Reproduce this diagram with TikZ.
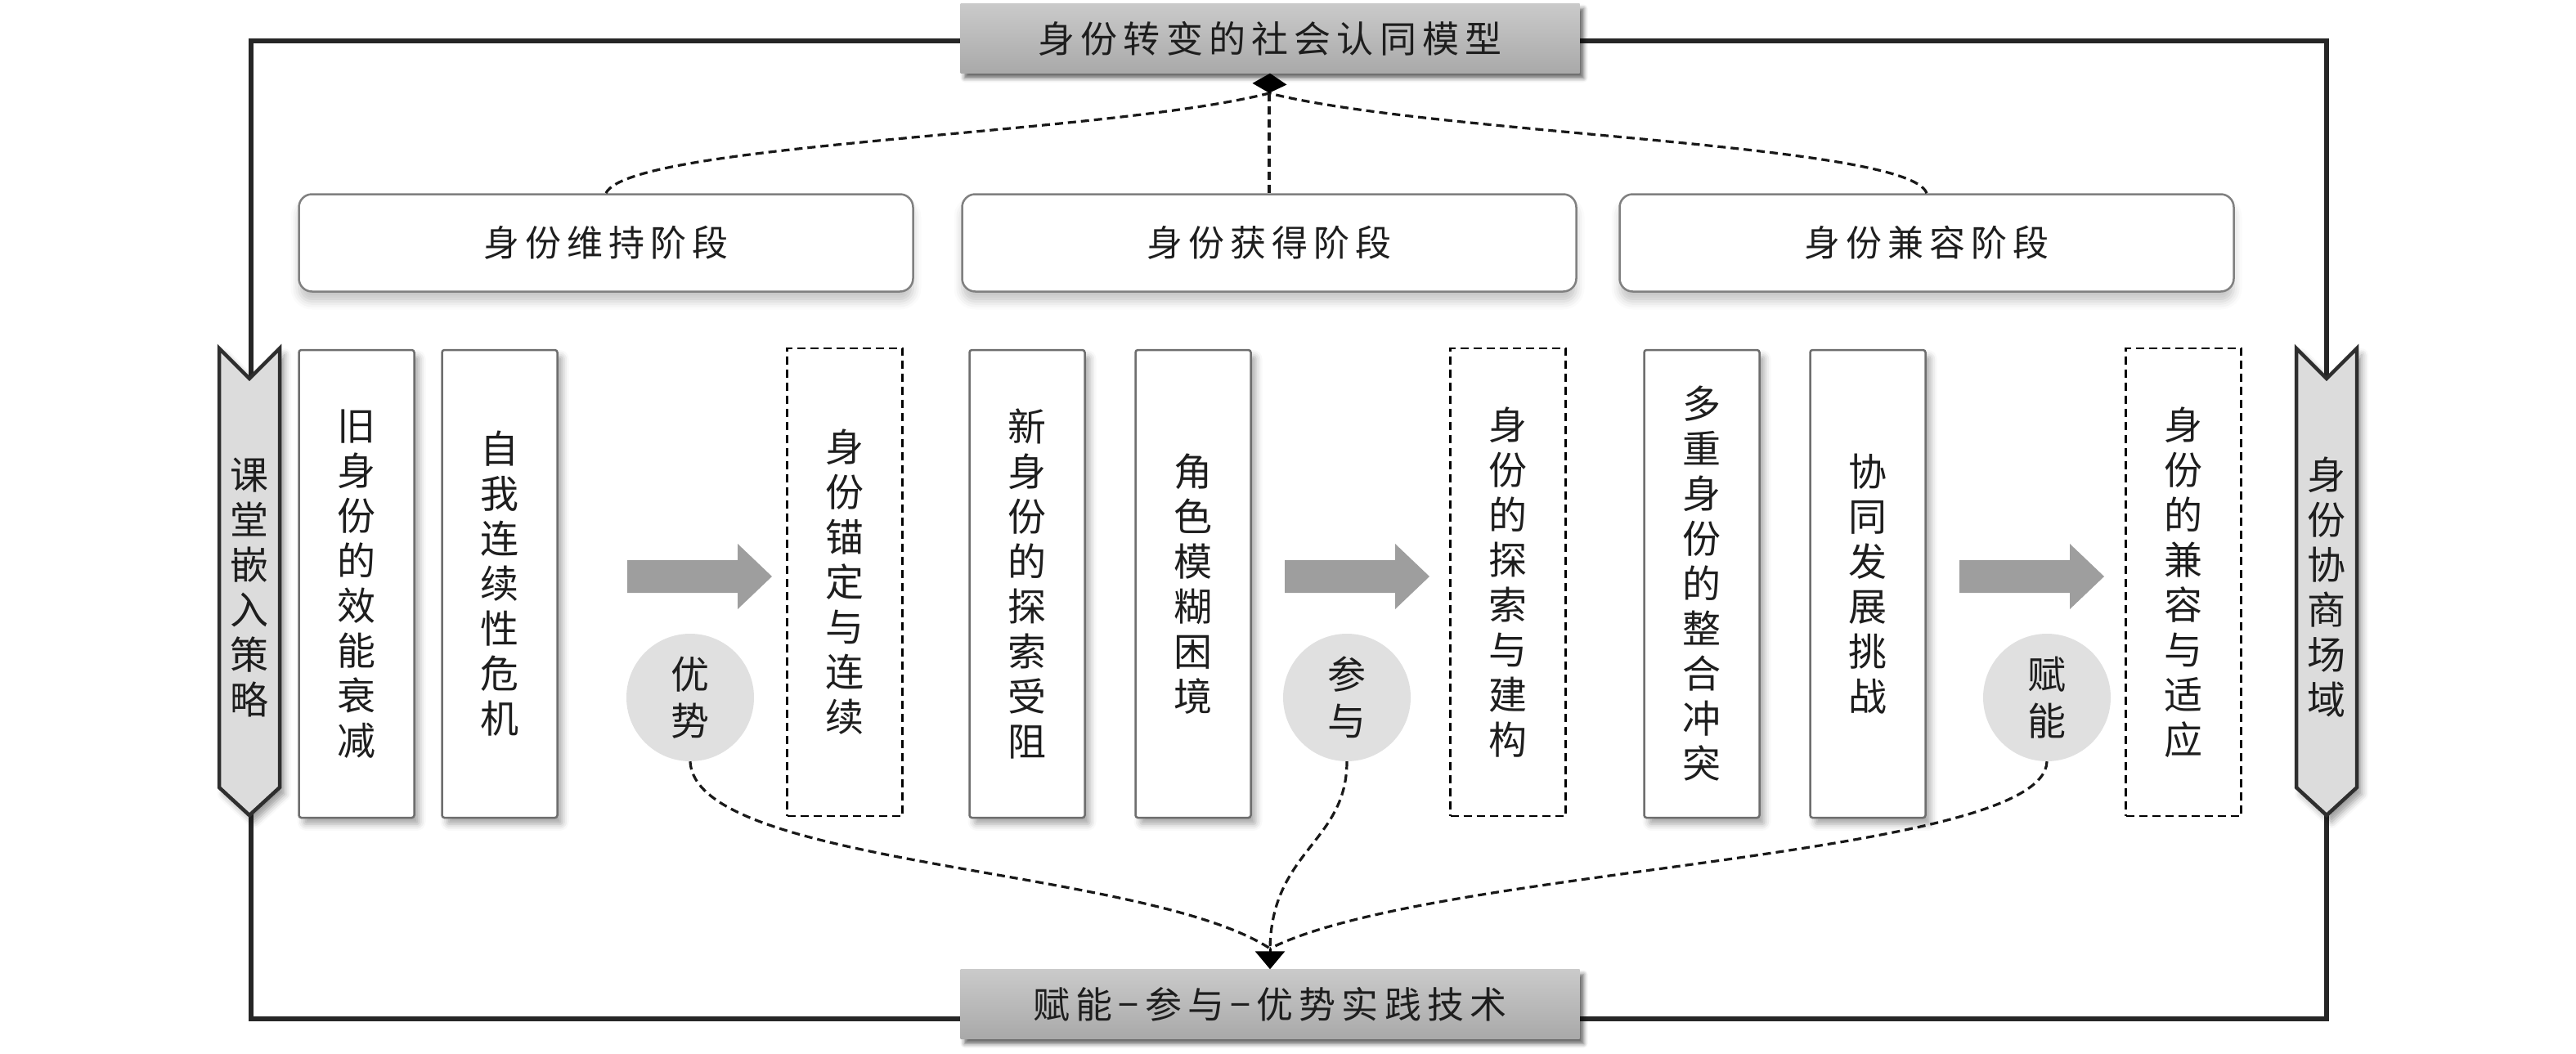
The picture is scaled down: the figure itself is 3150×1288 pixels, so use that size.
\documentclass[tikz,border=0pt]{standalone}
\usepackage{fontspec}
\setmainfont{Noto Sans CJK SC}
\newfontfamily\ttlfont[LetterSpace=16]{Noto Sans CJK SC}
\usetikzlibrary{shadows.blur,arrows.meta}
\definecolor{framec}{HTML}{262626}
\definecolor{ttltop}{HTML}{CACACA}
\definecolor{ttlbot}{HTML}{A9A9A9}
\definecolor{stgborder}{HTML}{808080}
\definecolor{boxborder}{HTML}{6E6E6E}
\definecolor{chevfill}{HTML}{DCDCDC}
\definecolor{chevdraw}{HTML}{2E2E2E}
\definecolor{circfill}{HTML}{E0E0E0}
\definecolor{arrowfill}{HTML}{9E9E9E}
\definecolor{txt}{HTML}{1E1E1E}
\tikzset{
  frameline/.style={draw=framec, line width=6pt},
  titlebox/.style={minimum width=757pt, minimum height=85pt, inner sep=0pt,
    top color=ttltop, bottom color=ttlbot, draw=none, text=txt,
    blur shadow={shadow xshift=5pt, shadow yshift=-6pt, shadow blur radius=5pt, shadow opacity=60},
    font=\ttlfont\fontsize{45}{50}\selectfont},
  stagebox/.style={minimum width=751pt, minimum height=119pt, inner sep=0pt,
    rounded corners=16pt, draw=stgborder, line width=2.5pt, fill=white, text=txt,
    blur shadow={shadow xshift=0pt, shadow yshift=-12pt, shadow blur radius=10pt, shadow opacity=22},
    font=\ttlfont\fontsize{44}{50}\selectfont},
  tallbox/.style={minimum width=141pt, minimum height=572pt, inner sep=0pt,
    rounded corners=3pt, draw=boxborder, line width=2.5pt, fill=white, text=txt, align=center,
    blur shadow={shadow xshift=6pt, shadow yshift=-8pt, shadow blur radius=8pt, shadow opacity=35},
    font=\fontsize{47}{55}\selectfont},
  dashbox/.style={minimum width=141pt, minimum height=572pt, inner sep=0pt,
    draw=black, line width=2.5pt, dash pattern=on 10pt off 6pt, text=txt, align=center,
    font=\fontsize{47}{55}\selectfont},
  chev/.style={fill=chevfill, draw=chevdraw, line width=4.5pt, line join=miter,
    blur shadow={shadow xshift=6pt, shadow yshift=-8pt, shadow blur radius=8pt, shadow opacity=40}},
  chevtext/.style={inner sep=0pt, text=txt, align=center, font=\fontsize{47}{55}\selectfont},
  circ/.style={circle, fill=circfill, minimum size=156pt, inner sep=0pt, text=txt, align=center,
    font=\fontsize{47}{57}\selectfont},
  bigarrow/.style={fill=arrowfill, draw=none},
  conn/.style={draw=black!90, line width=3.2pt, dash pattern=on 10pt off 6pt},
  toptip/.style={draw=black, line width=3pt, -{Kite[length=24pt, width=42pt, inset=11pt]}},
  bottip/.style={draw=black, line width=3pt, -{Triangle[length=22pt, width=36pt]}}
}
\begin{document}
\begin{tikzpicture}[x=1pt, y=-1pt]
\useasboundingbox (0,0) rectangle (3150,1288);
% outer frame
\draw[frameline] (307,50) rectangle (2845,1246);
% side chevrons
\path[chev] (268,426) -- (305,463) -- (342,426) -- (342,963) -- (305,997) -- (268,963) -- cycle;
\path[chev] (2808,426) -- (2845,463) -- (2882,426) -- (2882,963) -- (2845,997) -- (2808,963) -- cycle;
\node[chevtext] (lchev) at (305,718) {课\\堂\\嵌\\入\\策\\略};
\node[chevtext] (rchev) at (2845,718) {身\\份\\协\\商\\场\\域};
% titles
\node[titlebox] (top) at (1553,47) {身份转变的社会认同模型};
\node[titlebox] (bot) at (1553,1228) {赋能−参与−优势实践技术};
% stages
\node[stagebox] (s1) at (741,297) {身份维持阶段};
\node[stagebox] (s2) at (1552,297) {身份获得阶段};
\node[stagebox] (s3) at (2356,297) {身份兼容阶段};
% tall boxes
\node[tallbox] (b1) at (436,714) {旧\\身\\份\\的\\效\\能\\衰\\减};
\node[tallbox] (b2) at (611,714) {自\\我\\连\\续\\性\\危\\机};
\node[dashbox] (d1) at (1033,712) {身\\份\\锚\\定\\与\\连\\续};
\node[tallbox] (b3) at (1256,714) {新\\身\\份\\的\\探\\索\\受\\阻};
\node[tallbox] (b4) at (1459,714) {角\\色\\模\\糊\\困\\境};
\node[dashbox] (d2) at (1844,712) {身\\份\\的\\探\\索\\与\\建\\构};
\node[tallbox] (b5) at (2081,714) {多\\重\\身\\份\\的\\整\\合\\冲\\突};
\node[tallbox] (b6) at (2284,714) {协\\同\\发\\展\\挑\\战};
\node[dashbox] (d3) at (2670,712) {身\\份\\的\\兼\\容\\与\\适\\应};
% big gray arrows
\foreach \x in {767,1571,2396}{
  \path[bigarrow] (\x,685) -- (\x+135,685) -- (\x+135,665) -- (\x+177,705)
     -- (\x+135,745) -- (\x+135,725) -- (\x,725) -- cycle;
}
% circles
\node[circ] (c1) at (844,853) {优\\势};
\node[circ] (c2) at (1647,853) {参\\与};
\node[circ] (c3) at (2503,853) {赋\\能};
% top connectors
\coordinate (tc) at (1552,114);
\draw[conn] (s1.north) .. controls (770,175) and (1350,165) .. (tc);
\draw[conn] (s2.north) -- (tc);
\draw[conn] (s3.north) .. controls (2334,175) and (1754,165) .. (tc);
\draw[toptip] (tc) -- (top.south);
% bottom connectors
\coordinate (bc) at (1553,1160);
\draw[conn] (c1.south) .. controls (850,1060) and (1400,1060) .. (bc);
\draw[conn] (c2.south) .. controls (1647,1030) and (1555,1040) .. (bc);
\draw[conn] (c3.south) .. controls (2500,1050) and (1750,1060) .. (bc);
\draw[bottip] (bc) -- (bot.north);
\end{tikzpicture}
\end{document}
